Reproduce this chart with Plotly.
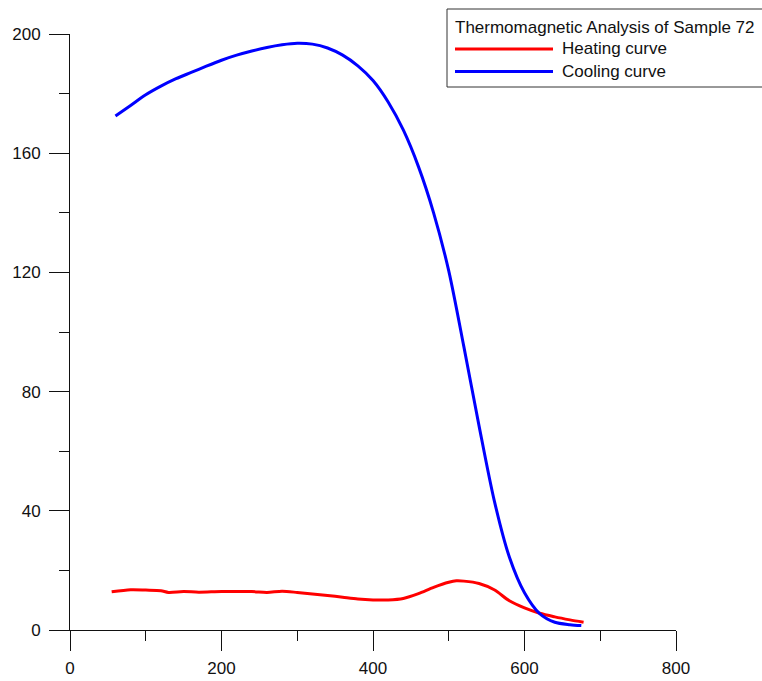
import plotly.graph_objects as go

# ---- data ----
heat_x = [55, 80, 100, 120, 130, 150, 170, 200, 240, 260, 280, 300, 320, 340, 360, 380, 400,
          420, 440, 460, 480, 500, 510, 520, 540, 560, 580, 600, 620, 640, 660, 678]
heat_y = [12.8, 13.5, 13.4, 13.2, 12.6, 12.9, 12.7, 12.9, 12.9, 12.6, 13.0, 12.6, 12.1, 11.6, 11.0,
          10.4, 10.1, 10.1, 10.6, 12.2, 14.3, 16.0, 16.5, 16.4, 15.6, 13.5, 9.8, 7.4, 5.6, 4.4, 3.4, 2.6]

cool_x = [60, 80, 100, 120, 140, 160, 180, 200, 220, 240, 260, 280, 300, 320, 340, 360, 380, 400,
          420, 440, 460, 480, 500, 520, 540, 560, 580, 600, 620, 640, 660, 675]
cool_y = [172.5, 176.0, 179.6, 182.5, 185.0, 187.1, 189.2, 191.2, 192.9, 194.3, 195.5, 196.4, 196.9,
          196.6, 195.3, 192.9, 189.3, 184.4, 177.2, 167.8, 155.5, 140.0, 120.5, 95.0, 68.5, 43.5,
          24.5, 12.5, 5.5, 2.6, 1.8, 1.5]

legend_title = "Thermomagnetic Analysis of Sample 72"
names = ["Heating curve", "Cooling curve"]
colors = ["#ff0000", "#0000ff"]

x_ticks = [0, 200, 400, 600, 800]
y_ticks = [0, 40, 80, 120, 160, 200]

W, H = 762, 681
L, R, T, B = 70, 676, 34, 630
FONT = "Arial, Liberation Sans, sans-serif"
AX = "#111111"

def px(xp):
    return (xp - L) / (R - L)

def py(yp):
    return (B - yp) / (B - T)

fig = go.Figure()
fig.add_trace(go.Scatter(x=heat_x, y=heat_y, mode="lines", name=names[0],
                         line=dict(color=colors[0], width=3, shape="spline", smoothing=0.8),
                         showlegend=False))
fig.add_trace(go.Scatter(x=cool_x, y=cool_y, mode="lines", name=names[1],
                         line=dict(color=colors[1], width=3, shape="spline", smoothing=0.8),
                         showlegend=False))

axis_common = dict(showgrid=False, zeroline=False, showline=True, linecolor=AX, linewidth=1,
                   ticks="outside", ticklen=20, tickwidth=1, tickcolor=AX, automargin=False,
                   tickfont=dict(family=FONT, size=17, color=AX))

fig.update_xaxes(range=[0, 800], tickvals=x_ticks, ticklabelstandoff=3,
                 minor=dict(dtick=100, tick0=0, ticks="outside", ticklen=10, tickcolor=AX, tickwidth=1),
                 **axis_common)
fig.update_yaxes(range=[0, 200], tickvals=y_ticks, ticklabelstandoff=5,
                 minor=dict(dtick=20, tick0=0, ticks="outside", ticklen=10, tickcolor=AX, tickwidth=1),
                 **axis_common)

shapes = [
    dict(type="rect", xref="paper", yref="paper", x0=px(447), x1=px(790), y0=py(87), y1=py(9),
         line=dict(color="#333333", width=1), fillcolor="white", layer="above"),
    dict(type="line", xref="paper", yref="paper", x0=px(455), x1=px(553), y0=py(49), y1=py(49),
         line=dict(color=colors[0], width=3)),
    dict(type="line", xref="paper", yref="paper", x0=px(455), x1=px(553), y0=py(71.5), y1=py(71.5),
         line=dict(color=colors[1], width=3)),
]
annotations = [
    dict(xref="paper", yref="paper", x=px(453), y=py(27), text=legend_title, showarrow=False,
         xanchor="left", yanchor="middle", font=dict(family=FONT, size=17, color=AX)),
    dict(xref="paper", yref="paper", x=px(560), y=py(48.5), text=names[0], showarrow=False,
         xanchor="left", yanchor="middle", font=dict(family=FONT, size=17, color=AX)),
    dict(xref="paper", yref="paper", x=px(560), y=py(71), text=names[1], showarrow=False,
         xanchor="left", yanchor="middle", font=dict(family=FONT, size=17, color=AX)),
]

fig.update_layout(width=W, height=H, margin=dict(l=L, r=W - R, t=T, b=H - B),
                  paper_bgcolor="white", plot_bgcolor="white",
                  shapes=shapes, annotations=annotations, showlegend=False)

fig.write_html("out.html")
